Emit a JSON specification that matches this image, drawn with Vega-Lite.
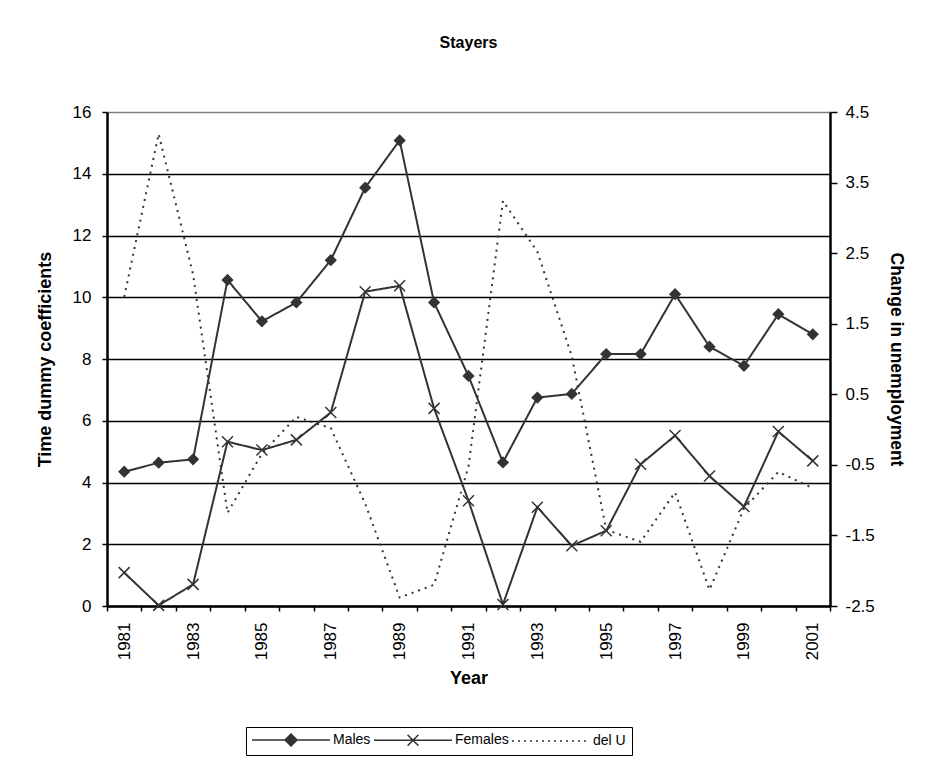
{
  "$schema": "https://vega.github.io/schema/vega-lite/v6.json",
  "width": 723,
  "height": 494,
  "autosize": {"type": "none"},
  "padding": {"left": 107, "top": 112, "right": 101, "bottom": 160},
  "background": "white",
  "config": {
    "view": {"stroke": null},
    "font": "Liberation Sans",
    "axis": {"labelFont": "Liberation Sans", "titleFont": "Liberation Sans", "labelColor": "black", "titleColor": "black"}
  },
  "title": {"text": "Stayers", "font": "Liberation Sans", "fontSize": 16, "fontWeight": "bold", "color": "black", "anchor": "middle", "offset": 52, "letterSpacing": 0.4},
  "data": {"values": [
    {"year": 1981, "series": "Males", "value": 4.35},
    {"year": 1982, "series": "Males", "value": 4.64},
    {"year": 1983, "series": "Males", "value": 4.75},
    {"year": 1984, "series": "Males", "value": 10.56},
    {"year": 1985, "series": "Males", "value": 9.22},
    {"year": 1986, "series": "Males", "value": 9.83},
    {"year": 1987, "series": "Males", "value": 11.2},
    {"year": 1988, "series": "Males", "value": 13.55},
    {"year": 1989, "series": "Males", "value": 15.08},
    {"year": 1990, "series": "Males", "value": 9.83},
    {"year": 1991, "series": "Males", "value": 7.45},
    {"year": 1992, "series": "Males", "value": 4.65},
    {"year": 1993, "series": "Males", "value": 6.75},
    {"year": 1994, "series": "Males", "value": 6.87},
    {"year": 1995, "series": "Males", "value": 8.16},
    {"year": 1996, "series": "Males", "value": 8.16},
    {"year": 1997, "series": "Males", "value": 10.1},
    {"year": 1998, "series": "Males", "value": 8.4},
    {"year": 1999, "series": "Males", "value": 7.78},
    {"year": 2000, "series": "Males", "value": 9.45},
    {"year": 2001, "series": "Males", "value": 8.8},
    {"year": 1981, "series": "Females", "value": 1.08},
    {"year": 1982, "series": "Females", "value": 0.02},
    {"year": 1983, "series": "Females", "value": 0.7},
    {"year": 1984, "series": "Females", "value": 5.32},
    {"year": 1985, "series": "Females", "value": 5.05},
    {"year": 1986, "series": "Females", "value": 5.38},
    {"year": 1987, "series": "Females", "value": 6.27},
    {"year": 1988, "series": "Females", "value": 10.18},
    {"year": 1989, "series": "Females", "value": 10.37},
    {"year": 1990, "series": "Females", "value": 6.4},
    {"year": 1991, "series": "Females", "value": 3.41},
    {"year": 1992, "series": "Females", "value": 0.05},
    {"year": 1993, "series": "Females", "value": 3.2},
    {"year": 1994, "series": "Females", "value": 1.95},
    {"year": 1995, "series": "Females", "value": 2.44},
    {"year": 1996, "series": "Females", "value": 4.59},
    {"year": 1997, "series": "Females", "value": 5.52},
    {"year": 1998, "series": "Females", "value": 4.21},
    {"year": 1999, "series": "Females", "value": 3.22},
    {"year": 2000, "series": "Females", "value": 5.65},
    {"year": 2001, "series": "Females", "value": 4.7},
    {"year": 1981, "series": "del U", "value": 1.88},
    {"year": 1982, "series": "del U", "value": 4.19},
    {"year": 1983, "series": "del U", "value": 2.2},
    {"year": 1984, "series": "del U", "value": -1.18},
    {"year": 1985, "series": "del U", "value": -0.34},
    {"year": 1986, "series": "del U", "value": 0.18},
    {"year": 1987, "series": "del U", "value": 0.02},
    {"year": 1988, "series": "del U", "value": -1.05},
    {"year": 1989, "series": "del U", "value": -2.38},
    {"year": 1990, "series": "del U", "value": -2.2},
    {"year": 1991, "series": "del U", "value": -0.52},
    {"year": 1992, "series": "del U", "value": 3.24},
    {"year": 1993, "series": "del U", "value": 2.52},
    {"year": 1994, "series": "del U", "value": 1.04},
    {"year": 1995, "series": "del U", "value": -1.42},
    {"year": 1996, "series": "del U", "value": -1.59},
    {"year": 1997, "series": "del U", "value": -0.89},
    {"year": 1998, "series": "del U", "value": -2.27},
    {"year": 1999, "series": "del U", "value": -1.12},
    {"year": 2000, "series": "del U", "value": -0.6},
    {"year": 2001, "series": "del U", "value": -0.83}
  ]},
  "layer": [
    {
      "layer": [
        {
          "transform": [{"filter": "datum.series !== 'del U'"}],
          "mark": {"type": "line", "strokeWidth": 2, "strokeDash": [1, 0]},
          "encoding": {
            "x": {"field": "year", "type": "ordinal", "bandPosition": 0.5,
              "scale": {"type": "band", "paddingInner": 0, "paddingOuter": 0},
              "axis": {"title": "Year", "titleFontSize": 18, "titleFontWeight": "bold", "titlePadding": 10,
                "labelAngle": -90, "labelFontSize": 17, "labelPadding": 11, "labelOverlap": false,
                "labelExpr": "datum.value % 2 == 1 ? datum.label : ''",
                "tickBand": "extent", "tickSize": 5, "tickColor": "black", "tickWidth": 1.5,
                "domainColor": "black", "domainWidth": 2.5, "grid": false}},
            "y": {"field": "value", "type": "quantitative",
              "scale": {"domain": [0, 16], "nice": false, "zero": false},
              "axis": {"title": "Time dummy coefficients", "titleFontSize": 18, "titleFontWeight": "bold", "titlePadding": 18,
                "values": [0, 2, 4, 6, 8, 10, 12, 14, 16], "labelFontSize": 17, "labelPadding": 11,
                "tickSize": 5, "tickColor": "black", "tickWidth": 1.5, "domainColor": "black", "domainWidth": 2.5,
                "grid": true, "gridColor": {"condition": {"test": "datum.value == 16", "value": "#808080"}, "value": "black"},
                "gridWidth": 1.3}},
            "color": {"field": "series", "type": "nominal",
              "scale": {"domain": ["Males", "Females", "del U"], "range": ["#333333", "#333333", "#333333"]},
              "legend": {"orient": "none", "legendX": 139, "legendY": 615, "direction": "horizontal", "title": null,
                "strokeColor": "black", "padding": 6, "fillColor": "white",
                "symbolSize": 144, "symbolStrokeWidth": 2, "symbolOffset": 32, "labelOffset": 35,
                "labelFont": "Liberation Sans", "labelFontSize": 14, "labelColor": "black", "columnPadding": 0,
                "encode": {"symbols": {"update": {
                  "shape": {"signal": "datum.value === 'Males' ? 'M-6.5,0L6.5,0M-1,0L0,-1L1,0L0,1Z' : datum.value === 'Females' ? 'M-6.5,0L6.5,0M-0.9,-0.9L0.9,0.9M-0.9,0.9L0.9,-0.9' : 'M-6.5,0L6.5,0'"},
                  "fill": {"signal": "datum.value === 'Males' ? '#333333' : 'transparent'"},
                  "stroke": {"value": "#333333"},
                  "strokeWidth": {"value": 1.5},
                  "strokeDash": {"signal": "datum.value === 'del U' ? [2, 4] : [1, 0]"}
                }}}}},
            "detail": {"field": "series"}
          }
        },
        {
          "transform": [{"filter": "datum.series === 'Males'"}],
          "mark": {"type": "point", "shape": "diamond", "size": 150, "filled": true, "fill": "#333333", "opacity": 1},
          "encoding": {
            "x": {"field": "year", "type": "ordinal", "bandPosition": 0.5},
            "y": {"field": "value", "type": "quantitative"}
          }
        },
        {
          "transform": [{"filter": "datum.series === 'Females'"}],
          "mark": {"type": "point", "shape": "M-1,-1L1,1M-1,1L1,-1", "size": 121, "filled": false, "stroke": "#333333", "strokeWidth": 1.5, "opacity": 1},
          "encoding": {
            "x": {"field": "year", "type": "ordinal", "bandPosition": 0.5},
            "y": {"field": "value", "type": "quantitative"}
          }
        }
      ]
    },
    {
      "transform": [{"filter": "datum.series === 'del U'"}],
      "mark": {"type": "line", "strokeWidth": 2, "strokeDash": [2, 5]},
      "encoding": {
        "x": {"field": "year", "type": "ordinal", "bandPosition": 0.5},
        "y": {"field": "value", "type": "quantitative",
          "scale": {"domain": [-2.5, 4.5], "nice": false, "zero": false},
          "axis": {"orient": "right", "title": "Change in unemployment", "titleFontSize": 17.5, "titleFontWeight": "bold", "titlePadding": 12,
            "values": [-2.5, -1.5, -0.5, 0.5, 1.5, 2.5, 3.5, 4.5],
            "labelExpr": "datum.value < 0 ? '-' + format(-datum.value, '.1f') : format(datum.value, '.1f')",
            "labelFontSize": 17, "labelPadding": 8,
            "tickSize": 7, "tickColor": "black", "tickWidth": 1.5, "domainColor": "black", "domainWidth": 2.5, "grid": false}},
        "color": {"field": "series", "type": "nominal"}
      }
    }
  ],
  "resolve": {"scale": {"y": "independent"}}
}
